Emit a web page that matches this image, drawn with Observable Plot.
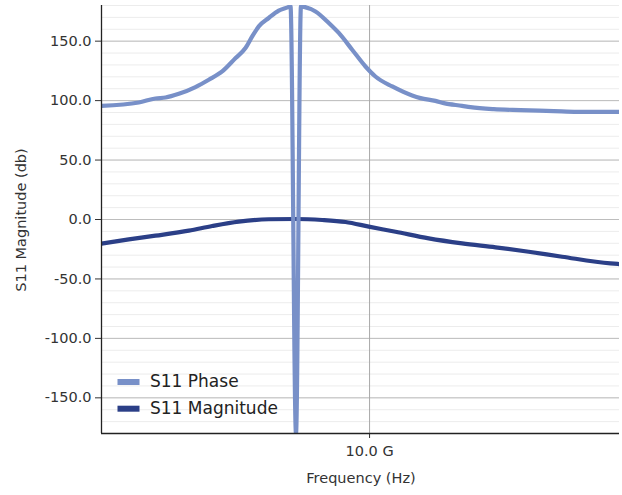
<!DOCTYPE html>
<html>
<head>
<meta charset="utf-8">
<script src="https://cdn.jsdelivr.net/npm/d3@7"></script>
<script src="https://cdn.jsdelivr.net/npm/@observablehq/plot@0.6"></script>
<style>
  html, body { margin: 0; padding: 0; background: #fff; }
  #chart { width: 622px; height: 495px; }
</style>
</head>
<body>
<div id="chart"></div>
<script>
// Frequencies in GHz
const phaseFreq = [3.078, 3.626, 3.902, 4.078, 4.324, 4.652, 4.933, 5.232, 5.550, 5.796, 5.970, 6.145, 6.420, 6.709, 7.011, 7.064, 7.237, 7.397, 7.436, 7.885, 8.360, 8.735, 9.264, 9.822, 10.26, 11.05, 12.06, 12.51, 13.36, 13.86, 15.02, 15.58, 17.26, 19.41, 22.47, 24.90, 30.0];
const phaseDeg  = [95.5, 98.4, 101.8, 102.6, 105.7, 111.4, 117.5, 124.5, 135.8, 144.2, 154.0, 162.4, 169.5, 175.7, 178.8, 179.5, -180.0, 179.5, 179.3, 175.0, 165.3, 156.9, 142.8, 128.7, 120.3, 111.9, 104.3, 102.1, 99.8, 97.9, 95.6, 94.5, 92.8, 92.0, 91.2, 90.6, 90.6];

const magFreq = [3.078, 3.470, 3.902, 4.518, 5.007, 5.627, 6.420, 7.220, 8.120, 8.996, 9.966, 11.21, 12.97, 15.02, 17.40, 20.13, 23.31, 28.83, 30.0];
const magDb   = [-20.3, -16.7, -13.6, -9.4, -5.5, -1.8, 0.2, 0.4, -0.4, -2.1, -6.0, -10.3, -15.9, -20.1, -23.4, -27.1, -31.3, -36.9, -37.5];

const seriesNames = ["S11 Phase", "S11 Magnitude"];
const seriesColors = ["#7890c8", "#2b3f87"];

const yMajorTicks = [-150, -100, -50, 0, 50, 100, 150];
const yMinorTicks = d3.range(-180, 181, 10);
const xTicks = [10]; // GHz
const xLabel = "Frequency (Hz)";
const yLabel = "S11 Magnitude (db)";

const phase = phaseFreq.map((f, i) => ({f: f * 1e9, v: phaseDeg[i]}));
const mag = magFreq.map((f, i) => ({f: f * 1e9, v: magDb[i]}));

const xDomain = [3.078e9, 30e9];
const font = "DejaVu Sans, Verdana, sans-serif";

const plot = Plot.plot({
  width: 622,
  height: 495,
  marginLeft: 101,
  marginRight: 3,
  marginTop: 5,
  marginBottom: 62,
  style: {fontFamily: font, fontSize: "14.5px", color: "#333", background: "#fff"},
  x: {type: "log", domain: xDomain},
  y: {domain: [-180, 180]},
  marks: [
    Plot.gridY(yMinorTicks, {stroke: "#ececec", strokeOpacity: 1}),
    Plot.gridY(yMajorTicks, {stroke: "#bdbdbd", strokeOpacity: 1}),
    Plot.gridX(xTicks.map(d => d * 1e9), {stroke: "#a8a8a8", strokeOpacity: 1}),
    Plot.axisY(yMajorTicks, {tickFormat: d => d.toFixed(1), tickSize: 6, tickPadding: 4, fontSize: 14.5, label: null, stroke: "#333"}),
    Plot.axisX(xTicks.map(d => d * 1e9), {tickFormat: d => (d / 1e9).toFixed(1) + " G", tickSize: 5, tickPadding: 7, fontSize: 14.5, label: null, stroke: "#333"}),
    Plot.line(mag, {x: "f", y: "v", stroke: seriesColors[1], strokeWidth: 4.2, curve: "monotone-x", clip: true}),
    Plot.line(phase, {x: "f", y: "v", stroke: seriesColors[0], strokeWidth: 4.2, curve: "monotone-x", clip: true}),
    Plot.ruleX([xDomain[0]], {stroke: "#222", strokeWidth: 1.3}),
    Plot.ruleY([-180], {stroke: "#222", strokeWidth: 1.3})
  ]
});

document.getElementById("chart").appendChild(plot);

// Axis titles and legend
const svg = d3.select(plot);
svg.append("text")
  .attr("x", 361).attr("y", 479)
  .attr("text-anchor", "middle").attr("dominant-baseline", "middle")
  .attr("font-family", font).attr("font-size", "14.5px").attr("fill", "#333")
  .text(xLabel);
svg.append("text")
  .attr("transform", "translate(22,220) rotate(-90)")
  .attr("text-anchor", "middle").attr("dominant-baseline", "middle")
  .attr("font-family", font).attr("font-size", "14.5px").attr("fill", "#333")
  .text(yLabel);

const legend = svg.append("g");
seriesNames.forEach((name, i) => {
  const cy = 382 + i * 26.7;
  legend.append("rect")
    .attr("x", 117.5).attr("y", cy - 3).attr("width", 22).attr("height", 6)
    .attr("fill", seriesColors[i]);
  legend.append("text")
    .attr("x", 150).attr("y", cy)
    .attr("text-anchor", "start")
    .attr("dominant-baseline", "middle")
    .attr("font-family", font).attr("font-size", "17px").attr("fill", "#222")
    .text(name);
});
</script>
</body>
</html>
